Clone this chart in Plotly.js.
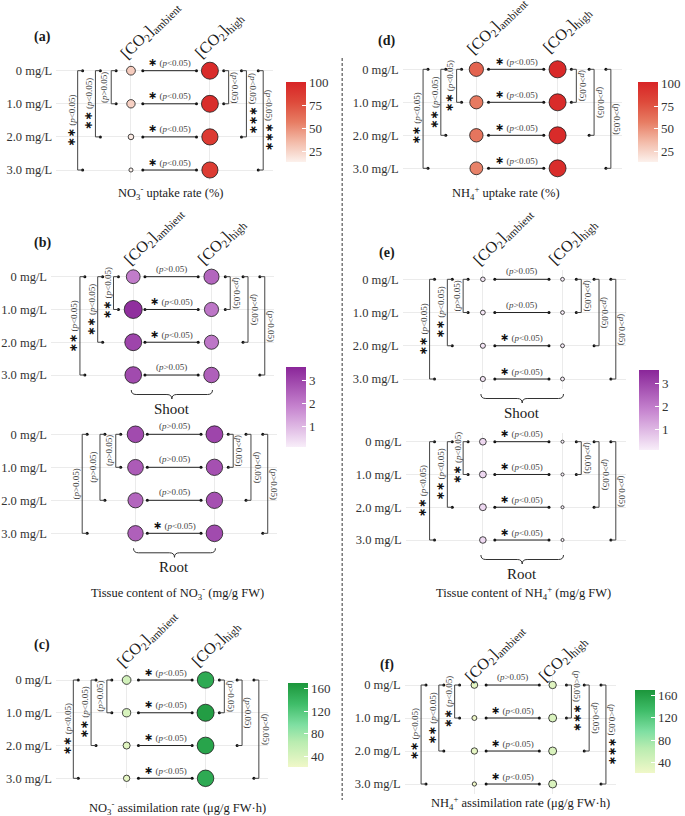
<!DOCTYPE html>
<html><head><meta charset="utf-8">
<script src="https://cdn.plot.ly/plotly-3.0.1.min.js"></script>
<style>html,body{margin:0;padding:0;background:#fff}</style>
</head><body><div id="chart" style="width:685px;height:816px"></div>
<script>
// ---------------- DATA ----------------
const concentrationLabels = ['0 mg/L', '1.0 mg/L', '2.0 mg/L', '3.0 mg/L'];
const co2Labels = ['[CO<sub>2</sub>]<sub>ambient</sub>', '[CO<sub>2</sub>]<sub>high</sub>'];
// significance: '' = (p>0.05), stars = (p<0.05); bracket spans 0–1, 0–2, 0–3
// (a) NO3- uptake rate (%)
const no3UptakeAmbient = [28, 26, 16, 13];
const no3UptakeHigh = [97, 96, 88, 87];
const no3UptakeRowSig = ['*', '*', '*', '*'];
const no3UptakeLeftSig = ['', '**', '**'];
const no3UptakeRightSig = ['', '***', '***'];
// (b) Tissue content of NO3- (mg/g FW) – shoot
const no3ShootAmbient = [2.0, 3.4, 3.0, 2.9];
const no3ShootHigh = [2.4, 2.1, 2.1, 2.5];
const no3ShootRowSig = ['', '*', '*', ''];
const no3ShootLeftSig = ['**', '**', '**'];
const no3ShootRightSig = ['', '', ''];
// (b) root
const no3RootAmbient = [2.9, 2.6, 2.4, 2.5];
const no3RootHigh = [3.0, 2.8, 2.8, 2.9];
const no3RootRowSig = ['', '', '', '*'];
const no3RootLeftSig = ['', '', ''];
const no3RootRightSig = ['', '', ''];
// (c) NO3- assimilation rate (µg/g FW·h)
const no3AssimAmbient = [46, 42, 34, 30];
const no3AssimHigh = [150, 162, 156, 150];
const no3AssimRowSig = ['*', '*', '*', '*'];
const no3AssimLeftSig = ['', '**', '**'];
const no3AssimRightSig = ['', '', ''];
// (d) NH4+ uptake rate (%)
const nh4UptakeAmbient = [68, 58, 60, 55];
const nh4UptakeHigh = [98, 97, 97, 96];
const nh4UptakeRowSig = ['*', '*', '*', '*'];
const nh4UptakeLeftSig = ['**', '**', '**'];
const nh4UptakeRightSig = ['', '', ''];
// (e) Tissue content of NH4+ – shoot
const nh4ShootAmbient = [0.22, 0.24, 0.27, 0.28];
const nh4ShootHigh = [0.15, 0.15, 0.16, 0.16];
const nh4ShootRowSig = ['', '', '*', '*'];
const nh4ShootLeftSig = ['', '**', '**'];
const nh4ShootRightSig = ['', '', ''];
// (e) root
const nh4RootAmbient = [0.48, 0.50, 0.50, 0.46];
const nh4RootHigh = [0.10, 0.10, 0.10, 0.10];
const nh4RootRowSig = ['*', '*', '*', '*'];
const nh4RootLeftSig = ['**', '**', '**'];
const nh4RootRightSig = ['', '', ''];
// (f) NH4+ assimilation rate
const nh4AssimAmbient = [32, 24, 30, 22];
const nh4AssimHigh = [36, 40, 40, 40];
const nh4AssimRowSig = ['', '*', '*', '*'];
const nh4AssimLeftSig = ['**', '**', '**'];
const nh4AssimRightSig = ['***', '', '***'];

// ---------------- STYLE / LAYOUT ----------------
const W = 685, H = 816;
const FONT = 'Liberation Serif, Times New Roman, serif';
const redScale = [[0, '#fcf1ec'], [0.25, '#f3bba9'], [0.5, '#e77c63'], [0.75, '#de4a3b'], [1, '#d82426']];
const purpleScale = [[0, '#f8eef9'], [0.5, '#c684cf'], [1, '#8a2699']];
const greenScale = [[0, '#f0f8c8'], [0.3, '#b9ecb0'], [0.5, '#7fdfa2'], [0.75, '#3fbd69'], [1, '#1c963b']];

const sizeUptake = {lo: 12, hi: 97, dlo: 2.5, dhi: 17};
const sizeTissue = {lo: 0, hi: 3.4, dlo: 0, dhi: 18};
const sizeAssim = {lo: 20, hi: 160, dlo: 2.5, dhi: 17};
function diam(v, s) { return s.dlo + (s.dhi - s.dlo) * Math.sqrt(Math.max(0, v - s.lo) / (s.hi - s.lo)); }

const panels = [
  {amb: no3UptakeAmbient, hi: no3UptakeHigh, row: no3UptakeRowSig, L: no3UptakeLeftSig, R: no3UptakeRightSig, cax: 'coloraxis', sz: sizeUptake,
   colA: 132.7, colH: 212.7, r0: 70.7, r3: 170, left: 57, right: 277, header: 57},
  {amb: no3ShootAmbient, hi: no3ShootHigh, row: no3ShootRowSig, L: no3ShootLeftSig, R: no3ShootRightSig, cax: 'coloraxis2', sz: sizeTissue,
   colA: 135, colH: 214.3, r0: 276.7, r3: 375, left: 51.7, right: 278, header: 263, brace: 'Shoot'},
  {amb: no3RootAmbient, hi: no3RootHigh, row: no3RootRowSig, L: no3RootLeftSig, R: no3RootRightSig, cax: 'coloraxis2', sz: sizeTissue,
   colA: 137.3, colH: 217.3, r0: 434.3, r3: 533.3, left: 51.7, right: 281, header: null, brace: 'Root'},
  {amb: no3AssimAmbient, hi: no3AssimHigh, row: no3AssimRowSig, L: no3AssimLeftSig, R: no3AssimRightSig, cax: 'coloraxis3', sz: sizeAssim,
   colA: 128.3, colH: 208.3, r0: 680, r3: 778.3, left: 56.7, right: 272, header: 665},
  {amb: nh4UptakeAmbient, hi: nh4UptakeHigh, row: nh4UptakeRowSig, L: nh4UptakeLeftSig, R: nh4UptakeRightSig, cax: 'coloraxis4', sz: sizeUptake,
   colA: 482.7, colH: 565, r0: 69.3, r3: 168.3, left: 408, right: 630, header: 52},
  {amb: nh4ShootAmbient, hi: nh4ShootHigh, row: nh4ShootRowSig, L: nh4ShootLeftSig, R: nh4ShootRightSig, cax: 'coloraxis5', sz: sizeTissue,
   colA: 489.3, colH: 570, r0: 279.3, r3: 379, left: 408, right: 634, header: 263, brace: 'Shoot'},
  {amb: nh4RootAmbient, hi: nh4RootHigh, row: nh4RootRowSig, L: nh4RootLeftSig, R: nh4RootRightSig, cax: 'coloraxis5', sz: sizeTissue,
   colA: 489.3, colH: 570, r0: 441.7, r3: 540, left: 411, right: 634, header: null, brace: 'Root'},
  {amb: nh4AssimAmbient, hi: nh4AssimHigh, row: nh4AssimRowSig, L: nh4AssimLeftSig, R: nh4AssimRightSig, cax: 'coloraxis6', sz: sizeAssim,
   colA: 480.7, colH: 560, r0: 685, r3: 784, left: 410, right: 624, header: 680},
];
// header label centre offsets from (column, header baseline), px
const headerDX = [20, 10], headerDY = [-27, -22];

const colorbars = [
  {name: 'coloraxis', scale: redScale, cmin: 13, cmax: 101, tickvals: [25, 50, 75, 100], x: 290, y: 82, len: 80},
  {name: 'coloraxis2', scale: purpleScale, cmin: 0.12, cmax: 3.57, tickvals: [1, 2, 3], x: 290, y: 367, len: 80},
  {name: 'coloraxis3', scale: greenScale, cmin: 22, cmax: 169, tickvals: [40, 80, 120, 160], x: 292, y: 683, len: 84},
  {name: 'coloraxis4', scale: redScale, cmin: 13, cmax: 101, tickvals: [25, 50, 75, 100], x: 646, y: 82.5, len: 80},
  {name: 'coloraxis5', scale: purpleScale, cmin: 0.12, cmax: 3.57, tickvals: [1, 2, 3], x: 648, y: 370, len: 80},
  {name: 'coloraxis6', scale: greenScale, cmin: 22, cmax: 169, tickvals: [40, 80, 120, 160], x: 643, y: 690, len: 83},
];

const leftOff = [-20, -36, -54], rightOff = [19, 37, 54], tickLen = 5, labelShift = 6.5;

const traces = [], shapes = [], annotations = [];
const layout = {width: W, height: H, margin: {l: 0, r: 0, t: 0, b: 0}, paper_bgcolor: '#fff', plot_bgcolor: 'rgba(0,0,0,0)',
  showlegend: false, font: {family: FONT, color: '#222'}};

function star(sig) { return '<span style="font-family:DejaVu Sans;font-size:11px;color:#111"><b>' + '\u2217'.repeat(sig.length) + '</b></span>'; }
function pval(sig) { return sig ? '(<i>p</i>&lt;0.05)' : '(<i>p</i>&gt;0.05)'; }
const pFont = {family: FONT, size: 9, color: '#444'};

panels.forEach((P, i) => {
  const n = i + 1, sfx = n === 1 ? '' : String(n);
  const xs = 'x' + sfx, ys = 'y' + sfx;
  const unit = P.colH - P.colA, uy = (P.r3 - P.r0) / 3;
  const top = P.r0 - 9, bottom = P.r3 + 10;
  layout['xaxis' + sfx] = {domain: [P.left / W, P.right / W], range: [(P.left - P.colA) / unit, (P.right - P.colA) / unit],
    anchor: ys, tickmode: 'array', tickvals: [0, 1], showticklabels: false,
    showgrid: true, gridcolor: '#ebebeb', gridwidth: 1, zeroline: false, showline: false, ticks: '', fixedrange: true, automargin: false};
  layout['yaxis' + sfx] = {domain: [1 - bottom / H, 1 - top / H], range: [(bottom - P.r0) / uy, (top - P.r0) / uy],
    anchor: xs, tickmode: 'array', tickvals: [0, 1, 2, 3], ticktext: concentrationLabels, showgrid: true, gridcolor: '#ebebeb',
    gridwidth: 1, zeroline: false, showline: false, ticks: '', ticklabelstandoff: 3,
    tickfont: {family: FONT, size: 12.5, color: '#333'}, fixedrange: true, automargin: false};

  // CO2 level headers (rotated category labels)
  if (P.header !== null) {
    co2Labels.forEach((lab, c) => annotations.push({xref: xs, yref: 'paper', x: c, y: 1 - (P.header + headerDY[c]) / H,
      xshift: headerDX[c], xanchor: 'center', yanchor: 'middle', textangle: -45, showarrow: false, text: lab,
      font: {family: FONT, size: 16, color: '#1a1a1a'}}));
  }

  // bubbles
  const vals = P.amb.concat(P.hi);
  traces.push({type: 'scatter', mode: 'markers', xaxis: xs, yaxis: ys,
    x: P.amb.map(() => 0).concat(P.hi.map(() => 1)),
    y: P.amb.map((_, k) => k).concat(P.hi.map((_, k) => k)),
    marker: {color: vals, coloraxis: P.cax, size: vals.map(v => diam(v, P.sz)), line: {color: '#1a1a1a', width: 0.8}, opacity: 1},
    hoverinfo: 'skip', cliponaxis: false});

  const dx = [], dy = [];
  P.row.forEach((sig, k) => {
    const x0 = 0.15, x1 = 0.83;
    shapes.push({type: 'line', xref: xs, yref: ys, x0: x0, x1: x1, y0: k, y1: k, line: {color: '#222', width: 1}});
    dx.push(x0, x1); dy.push(k, k);
    annotations.push({xref: xs, yref: ys, x: 0.49, y: k, yshift: 8, xanchor: 'center', yanchor: 'middle', showarrow: false, font: pFont,
      text: (sig ? star(sig) + ' ' : '') + pval(sig)});
  });
  P.L.forEach((sig, j) => {
    const span = j + 1, xv = leftOff[j] / unit, xt = xv + tickLen / unit;
    shapes.push({type: 'path', xref: xs, yref: ys, path: `M ${xt} 0 L ${xv} 0 L ${xv} ${span} L ${xt} ${span}`, line: {color: '#444', width: 1}});
    dx.push(xt, xt); dy.push(0, span);
    annotations.push({xref: xs, yref: ys, x: xv, y: span / 2, xshift: -labelShift, textangle: -90, xanchor: 'center', yanchor: 'middle',
      showarrow: false, font: pFont, text: (sig ? star(sig) + ' ' : '') + pval(sig)});
  });
  P.R.forEach((sig, j) => {
    const span = j + 1, xv = 1 + rightOff[j] / unit, xt = xv - tickLen / unit;
    shapes.push({type: 'path', xref: xs, yref: ys, path: `M ${xt} 0 L ${xv} 0 L ${xv} ${span} L ${xt} ${span}`, line: {color: '#444', width: 1}});
    dx.push(xt, xt); dy.push(0, span);
    annotations.push({xref: xs, yref: ys, x: xv, y: span / 2, xshift: labelShift, textangle: 90, xanchor: 'center', yanchor: 'middle',
      showarrow: false, font: pFont, text: pval(sig) + (sig ? ' ' + star(sig) : '')});
  });
  traces.push({type: 'scatter', mode: 'markers', xaxis: xs, yaxis: ys, x: dx, y: dy,
    marker: {color: '#111', size: 3}, hoverinfo: 'skip'});

  if (P.brace) {
    const X = p => p / W, Y = p => 1 - p / H;
    const x0 = P.colA - 2, x1 = P.colH + 1, xm = (x0 + x1) / 2, yt = P.r3 + 15, ym = yt + 4.5, yb = yt + 9;
    const path = `M ${X(x0)} ${Y(yt)} Q ${X(x0)} ${Y(ym)} ${X(x0 + 5)} ${Y(ym)} L ${X(xm - 5)} ${Y(ym)} Q ${X(xm)} ${Y(ym)} ${X(xm)} ${Y(yb)} ` +
      `Q ${X(xm)} ${Y(ym)} ${X(xm + 5)} ${Y(ym)} L ${X(x1 - 5)} ${Y(ym)} Q ${X(x1)} ${Y(ym)} ${X(x1)} ${Y(yt)}`;
    shapes.push({type: 'path', xref: 'paper', yref: 'paper', path: path, line: {color: '#333', width: 1}});
    annotations.push({xref: 'paper', yref: 'paper', x: X(xm), y: Y(P.r3 + 34), xanchor: 'center', yanchor: 'middle', showarrow: false,
      text: P.brace, font: {family: FONT, size: 15, color: '#1a1a1a'}});
  }
});

colorbars.forEach(c => {
  layout[c.name] = {cmin: c.cmin, cmax: c.cmax, colorscale: c.scale,
    colorbar: {x: c.x / W, xanchor: 'left', y: 1 - c.y / H, yanchor: 'top', len: c.len, lenmode: 'pixels', thickness: 20,
      thicknessmode: 'pixels', outlinewidth: 0, xpad: 0, ypad: 0, tickmode: 'array', tickvals: c.tickvals, ticks: 'inside',
      ticklen: 4, tickcolor: '#fff', tickwidth: 1, tickfont: {family: FONT, size: 13, color: '#333'}}};
});

const pa = (x, y, text, size) => annotations.push({xref: 'paper', yref: 'paper', x: x / W, y: 1 - y / H,
  xanchor: 'center', yanchor: 'middle', showarrow: false, text: text, font: {family: FONT, size: size, color: '#1a1a1a'}});
pa(43, 37, '<b>(a)</b>', 14); pa(43, 243, '<b>(b)</b>', 14); pa(43, 645, '<b>(c)</b>', 14);
pa(392, 41, '<b>(d)</b>', 14); pa(392, 253, '<b>(e)</b>', 14); pa(392, 665, '<b>(f)</b>', 14);
pa(173, 193, 'NO<sub>3</sub><sup>-</sup> uptake rate (%)', 12.5);
pa(513, 193, 'NH<sub>4</sub><sup>+</sup> uptake rate (%)', 12.5);
pa(180, 593, 'Tissue content of NO<sub>3</sub><sup>-</sup> (mg/g FW)', 12.5);
pa(530, 593, 'Tissue content of NH<sub>4</sub><sup>+</sup> (mg/g FW)', 12.5);
pa(180, 808, 'NO<sub>3</sub><sup>-</sup> assimilation rate (\u03bcg/g FW\u00b7h)', 12.5);
pa(527, 803, 'NH<sub>4</sub><sup>+</sup> assimilation rate (\u03bcg/g FW\u00b7h)', 12.5);

shapes.push({type: 'line', xref: 'paper', yref: 'paper', x0: 346.7 / W, x1: 346.7 / W, y0: 1 - 58 / H, y1: 1 - 800 / H,
  line: {color: '#333', width: 1, dash: '3px,2px'}});

layout.shapes = shapes;
layout.annotations = annotations;
Plotly.newPlot('chart', traces, layout, {staticPlot: true, displayModeBar: false});
</script></body></html>
